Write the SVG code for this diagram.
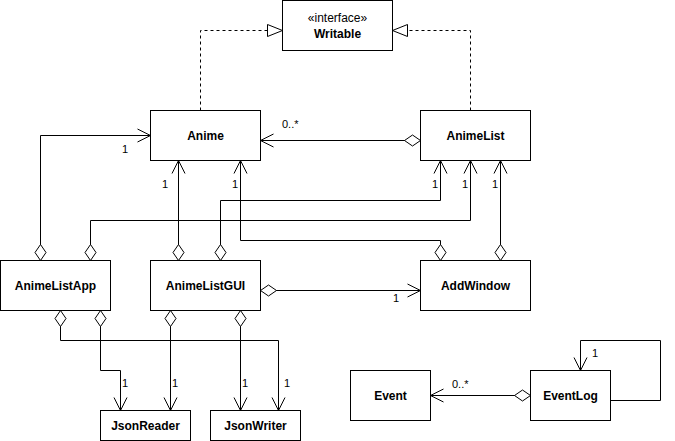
<svg xmlns="http://www.w3.org/2000/svg" width="675" height="441" viewBox="0 0 675 441">
<style>
.box{fill:#fff;stroke:#000;stroke-width:1}
.name{font-family:"Liberation Sans",Arial,sans-serif;font-size:12px;font-weight:bold;text-anchor:middle;fill:#000}
.stereo{font-family:"Liberation Sans",Arial,sans-serif;font-size:12px;text-anchor:middle;fill:#000}
.lbl{font-family:"Liberation Sans",Arial,sans-serif;font-size:11px;fill:#000}
.edge{fill:none;stroke:#000;stroke-width:1}
.agg{marker-start:url(#diamond);marker-end:url(#open)}
.dash{stroke-dasharray:3 3;marker-end:url(#tri)}
</style>
<defs>
<marker id="open" markerUnits="userSpaceOnUse" orient="auto" refX="0" refY="0" markerWidth="20" markerHeight="20" overflow="visible">
<path d="M-13,-6.5 L0,0 L-13,6.5" fill="none" stroke="#000" stroke-width="1"/>
</marker>
<marker id="diamond" markerUnits="userSpaceOnUse" orient="auto" refX="0" refY="0" markerWidth="20" markerHeight="20" overflow="visible">
<path d="M0,0 L8,-5.5 L16,0 L8,5.5 Z" fill="#fff" stroke="#000" stroke-width="1"/>
</marker>
<marker id="tri" markerUnits="userSpaceOnUse" orient="auto" refX="0" refY="0" markerWidth="20" markerHeight="20" overflow="visible">
<path d="M-15,-6 L0,0 L-15,6 Z" fill="#fff" stroke="#000" stroke-width="1"/>
</marker>
</defs>
<g id="connectors">
<path class="edge dash" d="M200.5 110.5 V30.5 H282.5"/>
<path class="edge dash" d="M470.5 110.5 V30.5 H392.5"/>
<path class="edge agg" d="M420.5 140.5 H260.5"/>
<path class="edge agg" d="M40.5 260.5 V135.5 H150.5"/>
<path class="edge agg" d="M178.5 260.5 V160.5"/>
<path class="edge agg" d="M440.5 260.5 V240.5 H240.5 V160.5"/>
<path class="edge agg" d="M90.5 260.5 V220.5 H470.5 V160.5"/>
<path class="edge agg" d="M220.5 260.5 V200.5 H440.5 V160.5"/>
<path class="edge agg" d="M500.5 260.5 V160.5"/>
<path class="edge agg" d="M260.5 290.5 H420.5"/>
<path class="edge agg" d="M60.5 310.5 V340.5 H278.5 V410.5"/>
<path class="edge agg" d="M100.5 310.5 V370.5 H120.5 V410.5"/>
<path class="edge agg" d="M170.5 310.5 V410.5"/>
<path class="edge agg" d="M240.5 310.5 V410.5"/>
<path class="edge agg" d="M530.5 395.5 H430.5"/>
<path class="edge" marker-end="url(#open)" d="M610.5 400.5 H660.5 V340.5 H580.5 V370.5"/>
<text class="lbl" x="282" y="128">0..*</text>
<text class="lbl" x="122" y="153">1</text>
<text class="lbl" x="162" y="188">1</text>
<text class="lbl" x="232" y="188">1</text>
<text class="lbl" x="432" y="188">1</text>
<text class="lbl" x="462" y="188">1</text>
<text class="lbl" x="492" y="188">1</text>
<text class="lbl" x="393" y="302">1</text>
<text class="lbl" x="122" y="387">1</text>
<text class="lbl" x="172" y="387">1</text>
<text class="lbl" x="242" y="387">1</text>
<text class="lbl" x="284" y="387">1</text>
<text class="lbl" x="452" y="388">0..*</text>
<text class="lbl" x="592" y="357">1</text>
</g>
<g id="Writable">
<rect class="box" x="282.5" y="0.5" width="110" height="50"/>
<text class="stereo" x="337.5" y="22">«interface»</text>
<text class="name" x="337.5" y="38">Writable</text>
</g>
<g id="Anime">
<rect class="box" x="150.5" y="110.5" width="110" height="50"/>
<text class="name" x="205.5" y="139.5">Anime</text>
</g>
<g id="AnimeList">
<rect class="box" x="420.5" y="110.5" width="110" height="50"/>
<text class="name" x="475.5" y="139.5">AnimeList</text>
</g>
<g id="AnimeListApp">
<rect class="box" x="0.5" y="260.5" width="110" height="50"/>
<text class="name" x="55.5" y="289.5">AnimeListApp</text>
</g>
<g id="AnimeListGUI">
<rect class="box" x="150.5" y="260.5" width="110" height="50"/>
<text class="name" x="205.5" y="289.5">AnimeListGUI</text>
</g>
<g id="AddWindow">
<rect class="box" x="420.5" y="260.5" width="110" height="50"/>
<text class="name" x="475.5" y="289.5">AddWindow</text>
</g>
<g id="JsonReader">
<rect class="box" x="100.5" y="410.5" width="90" height="30"/>
<text class="name" x="145.5" y="429.5">JsonReader</text>
</g>
<g id="JsonWriter">
<rect class="box" x="210.5" y="410.5" width="90" height="30"/>
<text class="name" x="255.5" y="429.5">JsonWriter</text>
</g>
<g id="Event">
<rect class="box" x="350.5" y="370.5" width="80" height="50"/>
<text class="name" x="390.5" y="399.5">Event</text>
</g>
<g id="EventLog">
<rect class="box" x="530.5" y="370.5" width="80" height="50"/>
<text class="name" x="570.5" y="399.5">EventLog</text>
</g>
</svg>
